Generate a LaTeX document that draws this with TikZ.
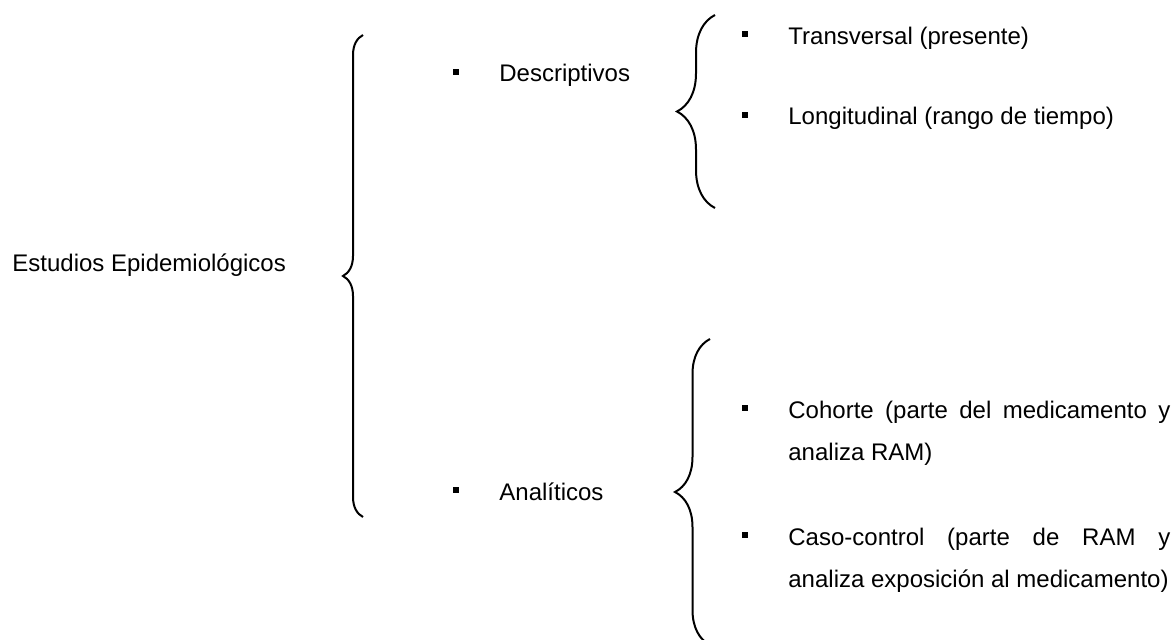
\documentclass[tikz,border=0pt]{standalone}
\usepackage{fontspec}
\setmainfont{Liberation Sans}
\usetikzlibrary{positioning,calc,decorations.pathreplacing}

\begin{document}
\begin{tikzpicture}[x=0.5pt, y=0.5pt,
  txt/.style={font=\fontsize{12}{21}\selectfont, inner sep=0pt, anchor=base west},
  txtbox/.style={txt, text width=191pt, align=justify},
  bul/.style={fill=black, minimum size=3pt, inner sep=0pt},
  brc/.style={decorate, decoration={brace, amplitude=#1}, line width=1pt}]
  \useasboundingbox (0,0) rectangle (1175,639);
  \clip (0,0) rectangle (1175,639);
  % titulo y tipos
  \node[txt] (estudios) at (12,367) {Estudios Epidemiológicos};
  \node[txt] (desc) at (499,557) {Descriptivos};
  \node[txt] (anal) at (499,139) {Analíticos};
  % subtipos
  \node[txt] (trans) at (788,595) {Transversal (presente)};
  \node[txt] (longi) at (788,514) {Longitudinal (rango de tiempo)};
  \node[txtbox] (cohorte) at (788,221) {Cohorte (parte del medicamento y\linebreak analiza RAM)};
  \node[txtbox] (caso) at (788,94) {Caso-control (parte de RAM y\linebreak analiza exposición al medicamento)};
  % vinetas
  \node[bul] (bdesc) at ($(desc.base west)+(-43,10)$) {};
  \node[bul] (banal) at ($(anal.base west)+(-43,10)$) {};
  \node[bul] (btrans) at ($(trans.base west)+(-43,10)$) {};
  \node[bul] (blongi) at ($(longi.base west)+(-43,10)$) {};
  \node[bul] (bcohorte) at ($(cohorte.base west)+(-43,10)$) {};
  \node[bul] (bcaso) at ($(caso.base west)+(-43,10)$) {};
  % llaves
  \coordinate (b0top) at (363,604);
  \coordinate (b0bot) at (363,122);
  \coordinate (b1top) at (715,624);
  \coordinate (b1bot) at (715,431);
  \coordinate (b2top) at (710,300);
  \coordinate (b2bot) at (710,-6);
  \draw[brc=10pt] (b0bot) -- (b0top);
  \draw[brc=19pt] (b1bot) -- (b1top);
  \draw[brc=17.5pt] (b2bot) -- (b2top);
\end{tikzpicture}
\end{document}
